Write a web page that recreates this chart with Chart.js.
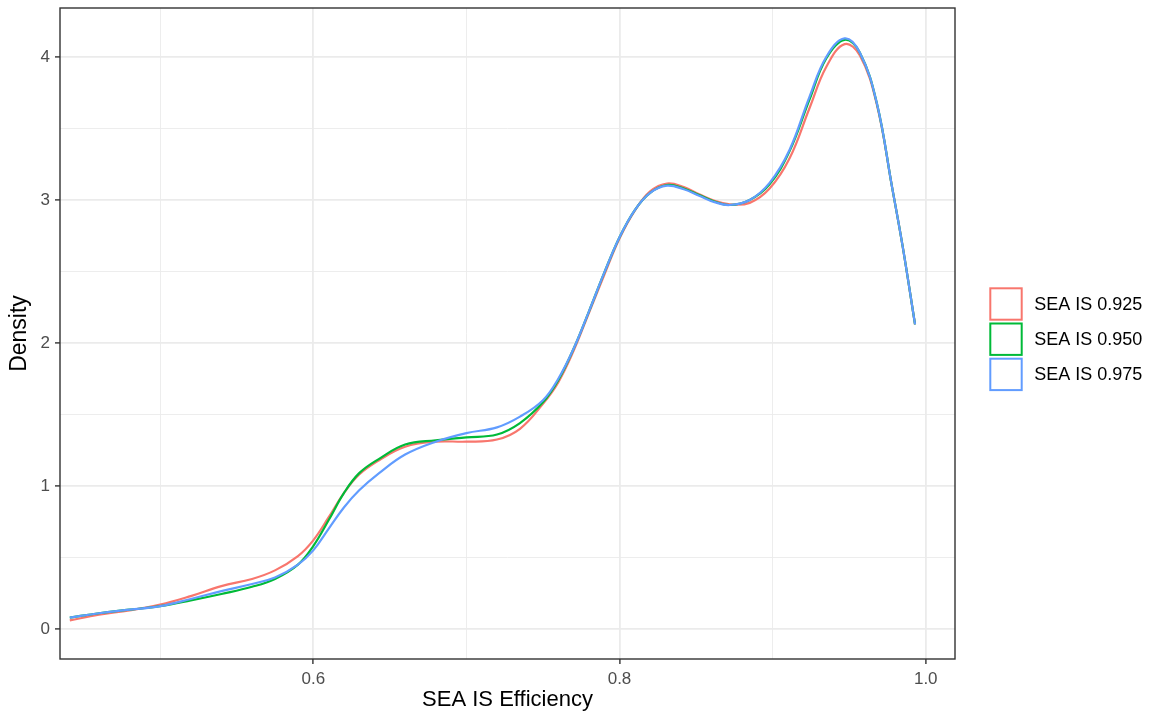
<!DOCTYPE html>
<html>
<head>
<meta charset="utf-8">
<title>SEA IS Efficiency density</title>
<script src="https://cdn.jsdelivr.net/npm/chart.js@4.4.1/dist/chart.umd.min.js"></script>
<style>
  html, body { margin: 0; padding: 0; background: #ffffff; }
  #wrap { position: relative; width: 1160px; height: 713px; }
</style>
</head>
<body>
<div id="wrap"><canvas id="chart" width="1160" height="713"></canvas></div>
<script>
// Efficiency grid where the kernel density estimates are evaluated
const efficiency = [0.441, 0.46, 0.48, 0.50, 0.52, 0.54, 0.56, 0.575, 0.59, 0.60,
  0.61, 0.62, 0.63, 0.643, 0.66, 0.68, 0.70, 0.72, 0.735, 0.75,
  0.76, 0.77, 0.78, 0.79, 0.80, 0.81, 0.82, 0.831, 0.842, 0.852,
  0.862, 0.872, 0.885, 0.898, 0.911, 0.924, 0.935, 0.947, 0.957, 0.968,
  0.978, 0.985, 0.993];

// Density for each SEA IS threshold
const dens925 = [0.06, 0.10, 0.13, 0.17, 0.23, 0.30, 0.35, 0.41, 0.51, 0.62,
  0.78, 0.95, 1.08, 1.18, 1.275, 1.31, 1.31, 1.325, 1.40, 1.575,
  1.725, 1.945, 2.21, 2.475, 2.73, 2.925, 3.06, 3.115, 3.09, 3.04,
  2.995, 2.97, 2.98, 3.08, 3.29, 3.64, 3.93, 4.09, 4.01, 3.67,
  3.09, 2.67, 2.13];
const dens950 = [0.08, 0.11, 0.135, 0.16, 0.20, 0.245, 0.295, 0.35, 0.45, 0.58,
  0.76, 0.95, 1.09, 1.19, 1.29, 1.32, 1.34, 1.36, 1.44, 1.585,
  1.74, 1.96, 2.22, 2.49, 2.74, 2.93, 3.05, 3.105, 3.08, 3.035,
  2.99, 2.965, 3.00, 3.11, 3.34, 3.70, 3.99, 4.12, 4.03, 3.68,
  3.09, 2.67, 2.13];
const dens975 = [0.08, 0.11, 0.135, 0.16, 0.21, 0.265, 0.315, 0.36, 0.45, 0.55,
  0.70, 0.85, 0.97, 1.09, 1.22, 1.31, 1.37, 1.41, 1.485, 1.60,
  1.75, 1.96, 2.22, 2.49, 2.74, 2.93, 3.05, 3.10, 3.075, 3.03,
  2.985, 2.965, 3.00, 3.12, 3.35, 3.72, 4.00, 4.13, 4.03, 3.68,
  3.09, 2.67, 2.13];

const seriesLabels = ['SEA IS 0.925', 'SEA IS 0.950', 'SEA IS 0.975'];
const seriesValues = [dens925, dens950, dens975];
const seriesColors = ['#F8766D', '#00BA38', '#619CFF'];

// Grid positions (major ones carry labels)
const xGridValues = [0.5, 0.6, 0.7, 0.8, 0.9, 1.0];
const xTickLabels = { '0.6': '0.6', '0.8': '0.8', '1.0': '1.0' };
const yGridValues = [0, 0.5, 1, 1.5, 2, 2.5, 3, 3.5, 4];
const yTickLabels = { '0': '0', '1': '1', '2': '2', '3': '3', '4': '4' };

const FONT = "'Liberation Sans', Arial, Helvetica, sans-serif";

const xLabelOf = v => xTickLabels[v.toFixed(1)];
const yLabelOf = v => yTickLabels[String(v)];

// theme_bw style panel border drawn over the curves
const panelBorder = {
  id: 'panelBorder',
  afterDatasetsDraw(chart) {
    const { ctx, chartArea: a } = chart;
    ctx.save();
    ctx.strokeStyle = '#333333';
    ctx.lineWidth = 1.4;
    ctx.strokeRect(a.left, a.top, a.right - a.left, a.bottom - a.top);
    ctx.restore();
  }
};

// Legend with outlined keys to the right of the panel
const keyLegend = {
  id: 'keyLegend',
  afterDraw(chart) {
    const { ctx, chartArea: a } = chart;
    const left = a.right + 35.3;
    const top = a.top + 280.3;
    const size = 31.4;
    const step = 35.2;
    ctx.save();
    chart.data.datasets.forEach((ds, i) => {
      const y = top + i * step;
      ctx.strokeStyle = ds.borderColor;
      ctx.lineWidth = 2;
      ctx.strokeRect(left, y, size, size);
      ctx.fillStyle = '#000000';
      ctx.font = '18px ' + FONT;
      ctx.textAlign = 'left';
      ctx.textBaseline = 'middle';
      ctx.fillText(ds.label, left + 44, y + size / 2 + 1);
    });
    ctx.restore();
  }
};

const datasets = seriesLabels.map((label, i) => ({
  label,
  data: efficiency.map((x, j) => ({ x, y: seriesValues[i][j] })),
  borderColor: seriesColors[i],
  backgroundColor: seriesColors[i],
  borderWidth: 2.2,
  pointRadius: 0,
  fill: false,
  tension: 0.4,
  order: seriesLabels.length - i
}));

// keep the panel exactly where the layout padding puts it
const noEdgePadding = s => {
  s.paddingTop = 0; s.paddingBottom = 0; s.paddingLeft = 0; s.paddingRight = 0;
};

new Chart(document.getElementById('chart'), {
  type: 'line',
  data: { datasets },
  options: {
    responsive: false,
    animation: false,
    devicePixelRatio: 1,
    layout: { padding: { left: 0, top: 8, right: 205, bottom: 0 } },
    plugins: { legend: { display: false }, tooltip: { enabled: false } },
    scales: {
      x: {
        type: 'linear',
        min: 0.4346,
        max: 1.0191,
        afterBuildTicks: s => { s.ticks = xGridValues.map(v => ({ value: v })); },
        afterFit: s => { s.height = 54; noEdgePadding(s); },
        ticks: {
          autoSkip: false,
          maxRotation: 0,
          padding: 5,
          color: '#4D4D4D',
          font: { family: FONT, size: 17 },
          callback: v => xLabelOf(v) || ''
        },
        grid: {
          color: '#EBEBEB',
          lineWidth: c => (xLabelOf(c.tick.value) ? 1.8 : 0.9),
          tickColor: c => (xLabelOf(c.tick.value) ? '#333333' : 'rgba(0,0,0,0)'),
          tickLength: 5,
          tickWidth: 1.4
        },
        border: { display: false },
        title: {
          display: true,
          text: 'SEA IS Efficiency',
          color: '#000000',
          font: { family: FONT, size: 22 },
          padding: { top: 0, bottom: 0 }
        }
      },
      y: {
        type: 'linear',
        min: -0.2098,
        max: 4.3427,
        afterBuildTicks: s => { s.ticks = yGridValues.map(v => ({ value: v })); },
        afterFit: s => { s.width = 60; noEdgePadding(s); },
        ticks: {
          autoSkip: false,
          padding: 5,
          color: '#4D4D4D',
          font: { family: FONT, size: 17 },
          callback: v => yLabelOf(v) || ''
        },
        grid: {
          color: '#EBEBEB',
          lineWidth: c => (yLabelOf(c.tick.value) ? 1.8 : 0.9),
          tickColor: c => (yLabelOf(c.tick.value) ? '#333333' : 'rgba(0,0,0,0)'),
          tickLength: 5,
          tickWidth: 1.4
        },
        border: { display: false },
        title: {
          display: true,
          text: 'Density',
          color: '#000000',
          font: { family: FONT, size: 23 },
          padding: { top: 6, bottom: 0 }
        }
      }
    }
  },
  plugins: [panelBorder, keyLegend]
});
</script>
</body>
</html>
